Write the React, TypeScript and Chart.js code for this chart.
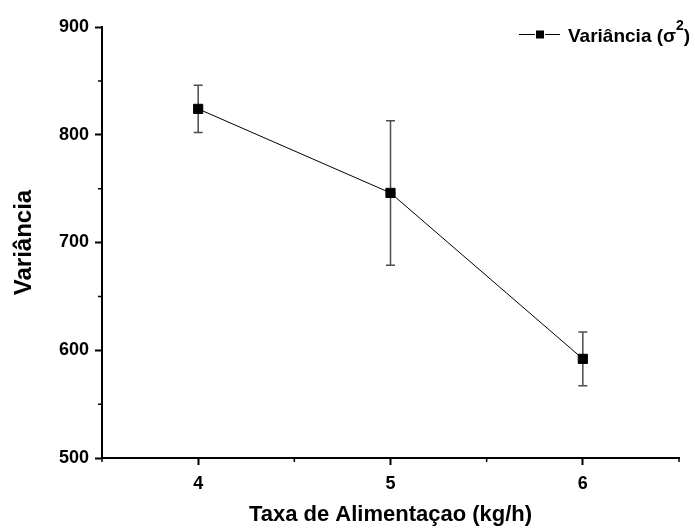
import React, { useEffect, useRef } from 'react';
import { Chart, registerables } from 'chart.js';

Chart.register(...registerables);

const FONT = '"Liberation Sans", Arial, Helvetica, sans-serif';

// ---- data ----
const feedRates = [4, 5, 6];
const variance = [824, 746, 592];
const varianceErr = [22, 67, 25];
const xMajorTicks = [4, 5, 6];
const yMajorTicks = [500, 600, 700, 800, 900];
const xMinorTicks = [3.5, 4.5, 5.5, 6.5];
const yMinorTicks = [550, 650, 750, 850];
const xTitle = 'Taxa de Alimentaçao (kg/h)';
const yTitle = 'Variância';
const legendText = 'Variância (';
const legendSymbol = 'σ';
const legendSup = '2';
const legendClose = ')';

const errorBarPlugin = {
  id: 'errorBars',
  beforeDatasetsDraw(chart: any) {
    const { ctx, scales } = chart;
    const x = scales.x;
    const y = scales.y;
    ctx.save();
    ctx.strokeStyle = '#4d4d4d';
    ctx.lineWidth = 1.5;
    feedRates.forEach((fx, i) => {
      const px = x.getPixelForValue(fx);
      const top = y.getPixelForValue(variance[i] + varianceErr[i]);
      const bot = y.getPixelForValue(variance[i] - varianceErr[i]);
      ctx.beginPath();
      ctx.moveTo(px, top);
      ctx.lineTo(px, bot);
      ctx.moveTo(px - 4.5, top);
      ctx.lineTo(px + 4.5, top);
      ctx.moveTo(px - 4.5, bot);
      ctx.lineTo(px + 4.5, bot);
      ctx.stroke();
    });
    ctx.restore();
  },
};

const minorTickPlugin = {
  id: 'minorTicks',
  afterDraw(chart: any) {
    const { ctx, scales, chartArea } = chart;
    ctx.save();
    ctx.strokeStyle = '#000';
    ctx.lineWidth = 1.5;
    ctx.beginPath();
    xMinorTicks.forEach((v) => {
      const px = scales.x.getPixelForValue(v);
      ctx.moveTo(px, chartArea.bottom);
      ctx.lineTo(px, chartArea.bottom + 4);
    });
    yMinorTicks.forEach((v) => {
      const py = scales.y.getPixelForValue(v);
      ctx.moveTo(chartArea.left, py);
      ctx.lineTo(chartArea.left - 4, py);
    });
    ctx.stroke();
    ctx.restore();
  },
};

const legendPlugin = {
  id: 'customLegend',
  afterDraw(chart: any) {
    const { ctx, chartArea } = chart;
    const r = chartArea.right;
    const ly = 34.5;
    ctx.save();
    ctx.strokeStyle = '#000';
    ctx.lineWidth = 1;
    ctx.beginPath();
    ctx.moveTo(r - 160, ly);
    ctx.lineTo(r - 144, ly);
    ctx.moveTo(r - 134, ly);
    ctx.lineTo(r - 119, ly);
    ctx.stroke();
    ctx.fillStyle = '#000';
    ctx.fillRect(r - 143, ly - 4, 8, 8);
    ctx.textBaseline = 'alphabetic';
    ctx.textAlign = 'left';
    ctx.font = `bold 19px ${FONT}`;
    let tx = r - 111;
    const base = 42;
    ctx.fillText(legendText, tx, base);
    tx += ctx.measureText(legendText).width;
    ctx.fillText(legendSymbol, tx, base);
    tx += ctx.measureText(legendSymbol).width;
    ctx.font = `bold 14px ${FONT}`;
    ctx.fillText(legendSup, tx, 30);
    tx += ctx.measureText(legendSup).width;
    ctx.font = `bold 19px ${FONT}`;
    ctx.fillText(legendClose, tx, base);
    ctx.restore();
  },
};

export default function App() {
  const canvasRef = useRef<HTMLCanvasElement | null>(null);

  useEffect(() => {
    if (!canvasRef.current) return;
    const chart = new Chart(canvasRef.current, {
      type: 'scatter',
      data: {
        datasets: [
          {
            label: 'Variância',
            data: feedRates.map((x, i) => ({ x, y: variance[i] })),
            showLine: true,
            borderColor: '#000',
            borderWidth: 1,
            backgroundColor: '#000',
            pointStyle: 'rect',
            pointRadius: 6.5,
            pointBorderWidth: 1,
            pointBackgroundColor: '#000',
            pointBorderColor: '#000',
            clip: false as any,
          },
        ],
      },
      options: {
        animation: false,
        responsive: false,
        layout: { padding: { left: 0, right: 16, top: 27, bottom: 0 } },
        plugins: {
          legend: { display: false },
          tooltip: { enabled: false },
        },
        scales: {
          x: {
            type: 'linear',
            min: 3.5,
            max: 6.5,
            afterBuildTicks: (s: any) => {
              s.ticks = xMajorTicks.map((value) => ({ value }));
            },
            afterFit: (s: any) => {
              s.height = 70;
            },
            border: { display: true, color: '#000', width: 2 },
            grid: {
              drawOnChartArea: false,
              drawTicks: true,
              tickLength: 7,
              tickWidth: 2,
              tickColor: '#000',
            },
            ticks: {
              color: '#000',
              padding: 8,
              font: { family: FONT, size: 18, weight: 'bold' },
              callback: (v: any) => String(v),
            },
            title: {
              display: true,
              text: xTitle,
              color: '#000',
              padding: { top: 0, bottom: 0 },
              font: { family: FONT, size: 22, weight: 'bold' },
            },
          },
          y: {
            type: 'linear',
            min: 500,
            max: 900,
            afterBuildTicks: (s: any) => {
              s.ticks = yMajorTicks.map((value) => ({ value }));
            },
            afterFit: (s: any) => {
              s.width = 102;
            },
            border: { display: true, color: '#000', width: 2 },
            grid: {
              drawOnChartArea: false,
              drawTicks: true,
              tickLength: 7,
              tickWidth: 2,
              tickColor: '#000',
            },
            ticks: {
              color: '#000',
              padding: 6,
              font: { family: FONT, size: 18, weight: 'bold' },
              callback: (v: any) => String(v),
            },
            title: {
              display: true,
              text: yTitle,
              color: '#000',
              padding: { top: 10, bottom: 0 },
              font: { family: FONT, size: 24, weight: 'bold' },
            },
          },
        },
      },
      plugins: [errorBarPlugin, minorTickPlugin, legendPlugin],
    });
    return () => chart.destroy();
  }, []);

  return (
    <canvas
      ref={canvasRef}
      width={695}
      height={528}
      style={{ position: 'fixed', left: 0, top: 0, width: 695, height: 528 }}
    />
  );
}
